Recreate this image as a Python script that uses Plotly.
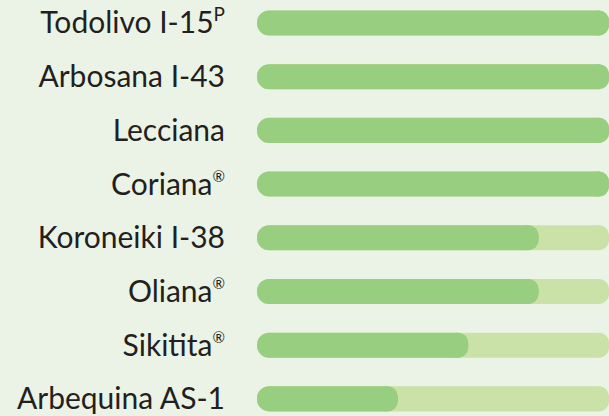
import plotly.graph_objects as go

categories = ["Todolivo I-15<sup><span style='font-size:19px'>P</span></sup>", "Arbosana I-43", "Lecciana",
              "Coriana<sup><span style='font-size:15px'>®</span></sup>",
              "Koroneiki I-38", "Oliana<sup><span style='font-size:15px'>®</span></sup>",
              "Sikitita<sup><span style='font-size:15px'>®</span></sup>", "Arbequina AS-1"]
values = [5, 5, 5, 5, 4, 4, 3, 2]
max_value = 5

track_color = "#cae2a7"
bar_color = "#98ce80"
bg_color = "#ebf3e6"

fig = go.Figure()

def add_rounded(vals, color):
    # long piece rounded at the left end, short cap rounded at the right end
    cap = 0.3
    fig.add_trace(go.Bar(
        y=categories, x=[-v for v in vals], base=vals, orientation="h",
        marker=dict(color=color, cornerradius="50%", line=dict(width=0), opacity=1),
        width=0.466, hoverinfo="skip", showlegend=False,
    ))
    fig.add_trace(go.Bar(
        y=categories, x=[cap] * len(vals), base=[v - cap for v in vals], orientation="h",
        marker=dict(color=color, cornerradius="50%", line=dict(width=0), opacity=1),
        width=0.466, hoverinfo="skip", showlegend=False,
    ))

add_rounded([max_value] * len(categories), track_color)
add_rounded(values, bar_color)

fig.update_layout(
    width=609, height=416,
    margin=dict(l=257, r=0, t=0, b=0),
    paper_bgcolor=bg_color, plot_bgcolor=bg_color,
    barmode="overlay",
    font=dict(family="Lato", size=30, color="#231f20"),
    xaxis=dict(range=[0, max_value], visible=False, fixedrange=True),
    yaxis=dict(type="category", range=[7.319, -0.428], showgrid=False, zeroline=False,
               showline=False, ticks="", ticklabelstandoff=31, fixedrange=True),
)

fig.write_html("out.html", post_script="document.body.style.margin='0';",
               config={"displayModeBar": False})
